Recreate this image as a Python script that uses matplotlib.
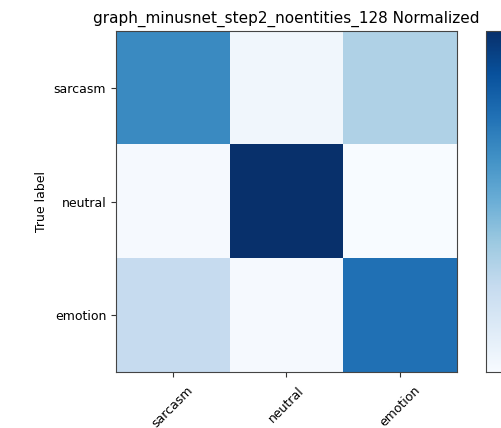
import numpy as np
import matplotlib
matplotlib.use('Agg')
import matplotlib.pyplot as plt

classes = ['sarcasm', 'neutral', 'emotion']
cm = np.array([
    [0.63, 0.05, 0.32],
    [0.03, 0.95, 0.02],
    [0.25, 0.03, 0.72],
])
title = 'graph_minusnet_step2_noentities_128 Normalized'

W, H = 502, 428
fig = plt.figure(figsize=(W / 100, H / 100), dpi=100)
ax = fig.add_axes([116 / W, 1 - 372 / H, 341 / W, 341 / H])
im = ax.imshow(cm, interpolation='nearest', cmap=plt.cm.Blues, aspect='auto')
ax.set_title(title, fontsize=11)

ticks = np.arange(len(classes))
ax.set_xticks(ticks)
ax.set_xticklabels(classes, rotation=45)
ax.set_yticks(ticks)
ax.set_yticklabels(classes)
ax.tick_params(labelsize=9, color='#333333')
ax.tick_params(axis='x', pad=5)
ax.set_ylabel('True label', fontsize=9)
for s in ax.spines.values():
    s.set_color('#444444')

# colorbar is cropped at the right edge in the original, labels fall outside
cax = fig.add_axes([486 / W, 1 - 372 / H, 20 / W, 341 / H])
cb = fig.colorbar(im, cax=cax)
cb.outline.set_edgecolor('#444444')
cax.tick_params(labelright=False)

fig.savefig('out.png', dpi=100)
